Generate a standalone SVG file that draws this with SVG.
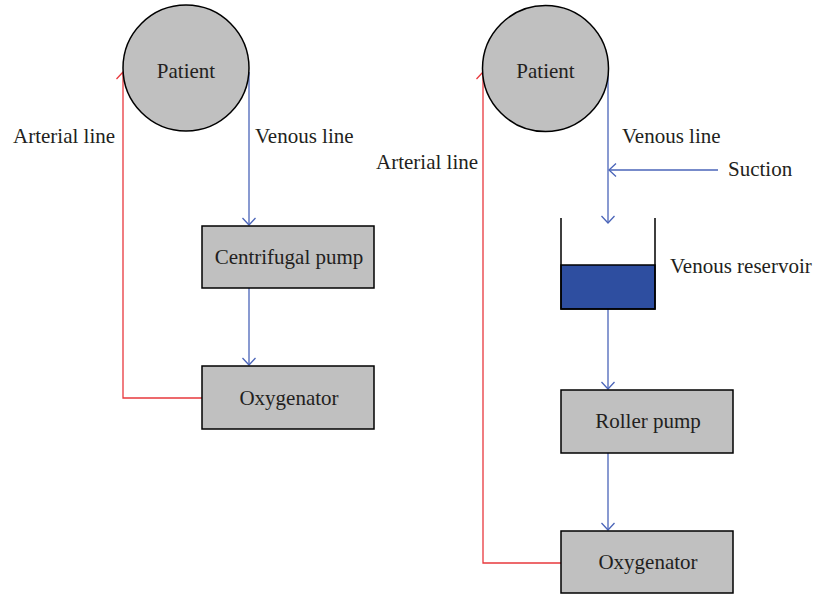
<svg xmlns="http://www.w3.org/2000/svg" width="814" height="594" viewBox="0 0 814 594">
<style>
text{font-family:"Liberation Serif","DejaVu Serif",serif;font-size:21px;fill:#231f20}
.c{text-anchor:middle}
.node{fill:#c0c0c0;stroke:#000;stroke-width:1.5}
.v{fill:none;stroke:#4a64b8;stroke-width:1.3}
.a{fill:none;stroke:#e8383d;stroke-width:1.3}
</style>
<defs>
<marker id="mb" markerWidth="14" markerHeight="14" refX="10" refY="7" orient="auto" markerUnits="userSpaceOnUse">
<path d="M3,0.5 L10,7 L3,13.5" fill="none" stroke="#4a64b8" stroke-width="1.3"/>
</marker>
<marker id="mr" markerWidth="14" markerHeight="14" refX="10" refY="7" orient="auto" markerUnits="userSpaceOnUse">
<path d="M3,0.5 L10,7 L3,13.5" fill="none" stroke="#e8383d" stroke-width="1.3"/>
</marker>
</defs>
<g id="connectors">
<path class="v" d="M249,72 V225" marker-end="url(#mb)"/>
<path class="v" d="M249,288 V365" marker-end="url(#mb)"/>
<path class="a" d="M202,398 H123 V72" marker-end="url(#mr)"/>
<path class="v" d="M608,72 V223" marker-end="url(#mb)"/>
<path class="v" d="M718,170 H609" marker-end="url(#mb)"/>
<path class="v" d="M608,309 V389" marker-end="url(#mb)"/>
<path class="v" d="M608,453 V530" marker-end="url(#mb)"/>
<path class="a" d="M561,563 H483 V72" marker-end="url(#mr)"/>
</g>
<g id="patient1"><circle class="node" cx="186" cy="68" r="63"/><text class="c" x="186" y="78">Patient</text></g>
<g id="label-arterial1"><text x="13" y="143">Arterial line</text></g>
<g id="label-venous1"><text x="255" y="143">Venous line</text></g>
<g id="centrifugal"><rect class="node" x="202" y="226" width="172" height="62"/><text class="c" x="289" y="264">Centrifugal pump</text></g>
<g id="oxy1"><rect class="node" x="202" y="366" width="172" height="63"/><text class="c" x="289" y="405">Oxygenator</text></g>
<g id="patient2"><circle class="node" cx="545.5" cy="68.5" r="63"/><text class="c" x="545.5" y="78">Patient</text></g>
<g id="label-arterial2"><text x="376" y="169">Arterial line</text></g>
<g id="label-venous2"><text x="622" y="143">Venous line</text></g>
<g id="label-suction"><text x="728" y="176">Suction</text></g>
<g id="reservoir">
<rect x="561" y="265" width="94" height="44" fill="#2e4ea0" stroke="#000" stroke-width="1.5"/>
<path d="M561,218 V309 H655 V218" fill="none" stroke="#000" stroke-width="1.5"/>
<text x="670" y="273">Venous reservoir</text>
</g>
<g id="roller"><rect class="node" x="561" y="390" width="172" height="63"/><text class="c" x="648" y="428">Roller pump</text></g>
<g id="oxy2"><rect class="node" x="561" y="531" width="172" height="62"/><text class="c" x="648" y="569">Oxygenator</text></g>
</svg>
